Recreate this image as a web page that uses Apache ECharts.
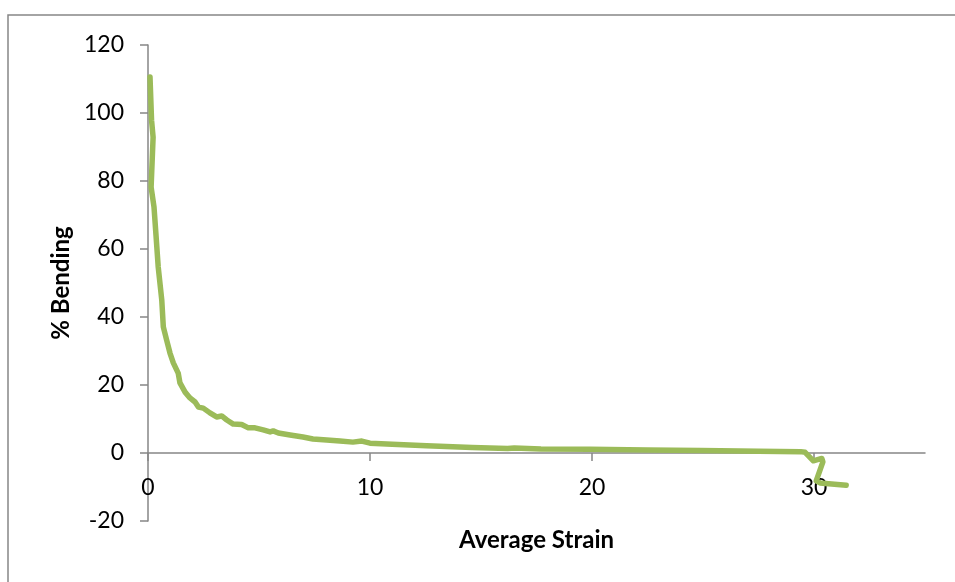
<!DOCTYPE html>
<html><head><meta charset="utf-8">
<script src="https://cdn.jsdelivr.net/npm/echarts@6/dist/echarts.min.js"></script>
<style>html,body{margin:0;padding:0;background:#fff}#c{width:955px;height:582px}</style>
</head><body><div id="c"></div>
<script>
const strain = [0.09,0.16,0.23,0.14,0.27,0.36,0.46,0.62,0.69,0.84,0.99,1.14,1.36,1.44,1.67,1.89,2.12,2.27,2.49,2.79,3.09,3.32,3.55,3.84,4.22,4.52,4.82,5.19,5.50,5.64,5.87,6.40,6.98,7.43,8.05,8.65,9.23,9.63,10.0,11.0,12.55,14.6,16.2,16.5,17.7,19.9,22.5,24.9,27.5,29.4,29.6,29.97,30.35,30.4,30.1,30.27,31.45];
const bending = [110.6,97.9,92.9,78.2,72.4,64.1,54.7,45.0,37.1,33.2,29.4,26.5,23.5,20.6,17.9,16.2,15.0,13.5,13.2,11.8,10.6,10.9,9.7,8.5,8.4,7.4,7.4,6.8,6.2,6.5,5.9,5.3,4.7,4.1,3.8,3.5,3.2,3.5,2.9,2.6,2.1,1.6,1.3,1.5,1.2,1.1,0.9,0.7,0.5,0.4,0.2,-2.3,-1.6,-2.6,-8.2,-8.8,-9.5];
const xTickValues = [0, 10, 20, 30];
const yTickValues = [-20, 0, 20, 40, 60, 80, 100, 120];
const xTitle = 'Average Strain';
const yTitle = '% Bending';

const FONT = 'Lato';
const AXIS = '#868686';
const chart = echarts.init(document.getElementById('c'), null, {renderer: 'canvas'});
chart.setOption({
  animation: false,
  backgroundColor: '#fff',
  graphic: [{
    type: 'rect', shape: {x: 8, y: 15, width: 980, height: 600},
    style: {fill: 'none', stroke: AXIS, lineWidth: 1.5}, silent: true, z: -1
  }],
  grid: {left: 148, right: 30, top: 45, bottom: 61, containLabel: false, outerBoundsMode: 'none'},
  xAxis: {
    type: 'value', min: 0, max: 35, interval: 10,
    name: xTitle, nameLocation: 'middle', nameGap: 7,
    nameTextStyle: {fontFamily: FONT, fontSize: 24, fontWeight: 'bold', color: '#000'},
    axisLine: {onZero: true, lineStyle: {color: AXIS, width: 1.5}},
    axisTick: {show: true, length: 8, customValues: xTickValues, lineStyle: {color: AXIS, width: 1.5}},
    axisLabel: {customValues: xTickValues, margin: -45, fontFamily: FONT, fontSize: 23, color: '#000'},
    splitLine: {show: false}
  },
  yAxis: {
    type: 'value', min: -20, max: 120, interval: 20,
    name: yTitle, nameLocation: 'middle', nameGap: 75, nameRotate: 90,
    nameTextStyle: {fontFamily: FONT, fontSize: 24, fontWeight: 'bold', color: '#000'},
    axisLine: {show: true, onZero: true, lineStyle: {color: AXIS, width: 1.5}},
    axisTick: {show: true, length: 8, customValues: yTickValues, lineStyle: {color: AXIS, width: 1.5}},
    axisLabel: {customValues: yTickValues, margin: 24, fontFamily: FONT, fontSize: 23, color: '#000'},
    splitLine: {show: false}
  },
  series: [{
    type: 'line',
    data: strain.map((s, i) => [s, bending[i]]),
    showSymbol: false,
    lineStyle: {color: '#9BBB59', width: 5.5, cap: 'round', join: 'round'},
    z: 3
  }]
});
</script></body></html>
